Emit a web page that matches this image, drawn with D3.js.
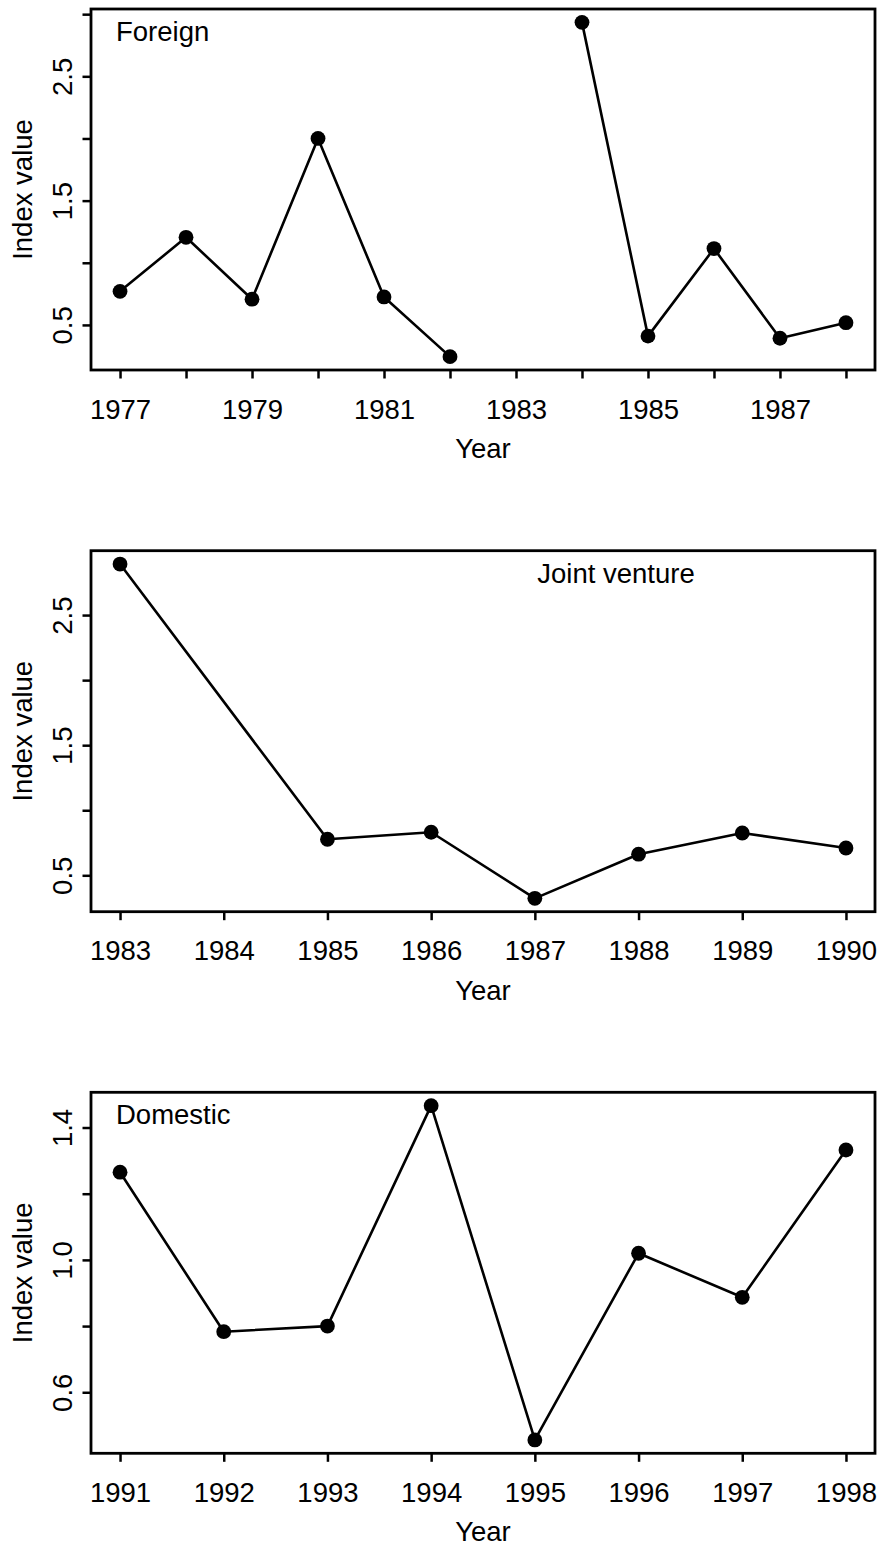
<!DOCTYPE html>
<html>
<head>
<meta charset="utf-8">
<script src="https://cdn.jsdelivr.net/npm/d3@7"></script>
<style>
  html, body { margin: 0; padding: 0; background: #fff; }
  svg { display: block; }
  text { font-family: "Liberation Sans", Arial, Helvetica, sans-serif; fill: #000; }
</style>
</head>
<body>
<svg id="chart" width="879" height="1547"></svg>
<script>
// ---- Data ----
const foreignYears  = [1977, 1978, 1979, 1980, 1981, 1982, 1983, 1984, 1985, 1986, 1987, 1988];
const foreignValues = [0.77, 1.205, 0.707, 2.0, 0.725, 0.245, null, 2.934, 0.41, 1.114, 0.393, 0.518];
const foreignXTicks = [1977, 1978, 1979, 1980, 1981, 1982, 1983, 1984, 1985, 1986, 1987, 1988];
const foreignXLabels = [1977, 1979, 1981, 1983, 1985, 1987];
const foreignYTicks = [0.5, 1.0, 1.5, 2.0, 2.5, 3.0];
const foreignYLabels = [0.5, 1.5, 2.5];

const jvYears  = [1983, 1985, 1986, 1987, 1988, 1989, 1990];
const jvValues = [2.892, 0.777, 0.831, 0.323, 0.662, 0.825, 0.71];
const jvXTicks = [1983, 1984, 1985, 1986, 1987, 1988, 1989, 1990];
const jvXLabels = [1983, 1984, 1985, 1986, 1987, 1988, 1989, 1990];
const jvYTicks = [0.5, 1.0, 1.5, 2.0, 2.5];
const jvYLabels = [0.5, 1.5, 2.5];

const domYears  = [1991, 1992, 1993, 1994, 1995, 1996, 1997, 1998];
const domValues = [1.265, 0.783, 0.8, 1.466, 0.456, 1.02, 0.887, 1.332];
const domXTicks = [1991, 1992, 1993, 1994, 1995, 1996, 1997, 1998];
const domXLabels = [1991, 1992, 1993, 1994, 1995, 1996, 1997, 1998];
const domYTicks = [0.6, 0.8, 1.0, 1.2, 1.4];
const domYLabels = [0.6, 1.0, 1.4];

const titles = ["Foreign", "Joint venture", "Domestic"];
const xTitle = "Year";
const yTitle = "Index value";

// ---- Layout ----
const svg = d3.select("#chart");
const FS = 27.5;
const left = 91, right = 875, panelH = 361;
const tops = [9, 550.7, 1092.3];
const titleX = [116, 537.3, 116];
const tickLen = 8.5;

const panels = [
  {years: foreignYears, values: foreignValues, xt: foreignXTicks, xl: foreignXLabels, yt: foreignYTicks, yl: foreignYLabels},
  {years: jvYears, values: jvValues, xt: jvXTicks, xl: jvXLabels, yt: jvYTicks, yl: jvYLabels},
  {years: domYears, values: domValues, xt: domXTicks, xl: domXLabels, yt: domYTicks, yl: domYLabels}
];

function padded(ext) {
  const r = ext[1] - ext[0];
  return [ext[0] - 0.04 * r, ext[1] + 0.04 * r];
}

panels.forEach((p, i) => {
  const top = tops[i], bottom = top + panelH;
  const pts = p.years.map((yr, k) => ({year: yr, value: p.values[k]}));
  const xDom = padded(d3.extent(p.xt.concat(p.years)));
  const yDom = padded(d3.extent(p.values.filter(v => v != null)));
  const x = d3.scaleLinear().domain(xDom).range([left, right]);
  const y = d3.scaleLinear().domain(yDom).range([bottom, top]);

  const g = svg.append("g");

  // X axis
  const xa = g.append("g")
    .attr("transform", `translate(0,${bottom})`)
    .call(d3.axisBottom(x).tickValues(p.xt).tickSize(tickLen)
      .tickFormat(d => p.xl.includes(d) ? String(d) : ""));
  xa.select(".domain").remove();
  xa.selectAll(".tick line").attr("stroke", "#000").attr("stroke-width", 2.5);
  xa.selectAll(".tick text")
    .attr("y", 48.5).attr("dy", null)
    .attr("font-size", FS)
    .style("font-family", '"Liberation Sans", Arial, sans-serif')
    .attr("fill", "#000");

  // Y axis
  const ya = g.append("g")
    .attr("transform", `translate(${left},0)`)
    .call(d3.axisLeft(y).tickValues(p.yt).tickSize(tickLen)
      .tickFormat(d => p.yl.some(v => Math.abs(v - d) < 1e-9) ? d3.format(".1f")(d) : ""));
  ya.select(".domain").remove();
  ya.selectAll(".tick line").attr("stroke", "#000").attr("stroke-width", 2.5);
  ya.selectAll(".tick text")
    .attr("x", null).attr("dy", null)
    .attr("transform", "translate(-19,0) rotate(-90)")
    .attr("text-anchor", "middle")
    .attr("font-size", FS)
    .style("font-family", '"Liberation Sans", Arial, sans-serif')
    .attr("fill", "#000");

  // Box
  g.append("rect")
    .attr("x", left).attr("y", top)
    .attr("width", right - left).attr("height", panelH)
    .attr("fill", "none").attr("stroke", "#000").attr("stroke-width", 2.8);

  // Line
  const line = d3.line().defined(d => d.value != null)
    .x(d => x(d.year)).y(d => y(d.value));
  g.append("path").datum(pts)
    .attr("d", line)
    .attr("fill", "none").attr("stroke", "#000").attr("stroke-width", 2.6)
    .attr("stroke-linejoin", "round");

  // Points
  g.selectAll("circle.pt").data(pts.filter(d => d.value != null)).enter()
    .append("circle").attr("class", "pt")
    .attr("cx", d => x(d.year)).attr("cy", d => y(d.value))
    .attr("r", 7.4).attr("fill", "#000");

  // Panel title
  g.append("text").attr("x", titleX[i]).attr("y", top + 32)
    .attr("font-size", FS).text(titles[i]);

  // Axis titles
  g.append("text").attr("x", (left + right) / 2).attr("y", bottom + 88)
    .attr("text-anchor", "middle").attr("font-size", FS).text(xTitle);
  g.append("text")
    .attr("transform", `translate(31.7,${(top + bottom) / 2}) rotate(-90)`)
    .attr("text-anchor", "middle").attr("font-size", FS).text(yTitle);
});
</script>
</body>
</html>
